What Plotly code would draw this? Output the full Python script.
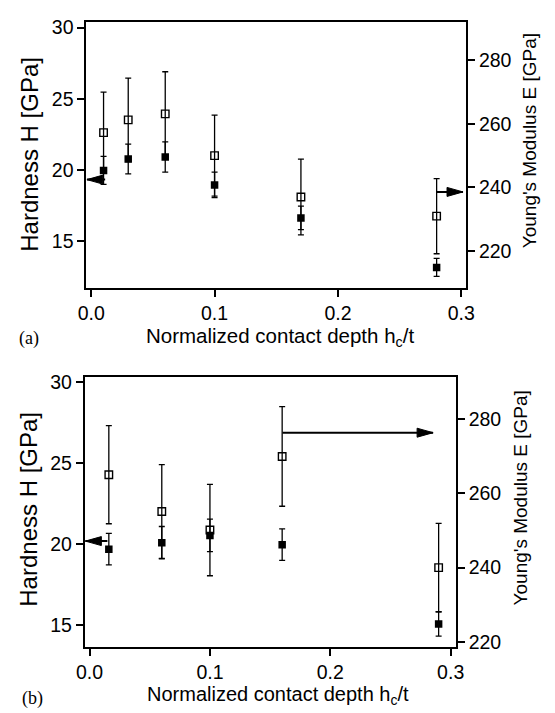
import plotly.graph_objects as go

W, H = 555, 713

# ---------------- data (panel a) ----------------
xa = [0.01, 0.03, 0.06, 0.10, 0.17, 0.28]
Ha = [19.96, 20.76, 20.90, 18.94, 16.62, 13.14]
Ha_err = [0.98, 1.04, 1.06, 0.90, 0.82, 0.63]
Ea = [257.2, 261.2, 263.1, 250.0, 237.0, 231.0]
Ea_err = [12.7, 13.1, 13.2, 12.7, 11.9, 11.8]

# ---------------- data (panel b) ----------------
xb = [0.016, 0.06, 0.10, 0.16, 0.29]
Hb = [19.70, 20.10, 20.55, 19.98, 15.09]
Hb_err = [0.97, 1.00, 1.00, 0.97, 0.75]
Eb = [265.0, 255.1, 250.1, 269.9, 240.0]
Eb_err = [13.2, 12.6, 12.3, 13.4, 11.9]

# tick values / labels
x_ticks = [0.0, 0.1, 0.2, 0.3]
x_ticklabels = ["0.0", "0.1", "0.2", "0.3"]
h_ticks = [15, 20, 25, 30]
e_ticks = [220, 240, 260, 280]

x_title = "Normalized contact depth h<sub>c</sub>/t"
h_title = "Hardness H [GPa]"
e_title = "Young's Modulus E [GPa]"

# arrows: (tail x, tip x, y value) -- left arrows on H axis, right arrows on E axis
arrow_a_left = (0.0113, -0.0035, 19.31)
arrow_a_right = (0.2795, 0.3014, 238.6)
arrow_b_left = (0.0148, -0.0035, 20.2)
arrow_b_right = (0.1603, 0.2854, 276.3)

FONT = "Liberation Sans, Arial, Helvetica, sans-serif"
SERIF = "Liberation Serif, Times New Roman, serif"

fig = go.Figure()

err_style = dict(type="data", color="black", thickness=1.3, width=3)

def add_panel(x, h, herr, e, eerr, xax, yE, yH):
    fig.add_trace(go.Scatter(
        x=x, y=e, mode="markers", xaxis=xax, yaxis=yE,
        marker=dict(symbol="square-open", size=7.5, color="black", line=dict(width=1.4, color="black")),
        error_y=dict(array=eerr, **err_style), showlegend=False))
    fig.add_trace(go.Scatter(
        x=x, y=h, mode="markers", xaxis=xax, yaxis=yH,
        marker=dict(symbol="square", size=7.5, color="black"),
        error_y=dict(array=herr, **err_style), showlegend=False))

add_panel(xa, Ha, Ha_err, Ea, Ea_err, "x", "y", "y2")
add_panel(xb, Hb, Hb_err, Eb, Eb_err, "x2", "y3", "y4")

def px_domain_x(l, r):
    return [l / W, r / W]

def px_domain_y(t, b):
    return [1 - b / H, 1 - t / H]

axis_common = dict(showgrid=False, zeroline=False, showline=True, linecolor="black", linewidth=2,
                   ticks="outside", ticklen=7, tickwidth=2, tickcolor="black",
                   tickfont=dict(family=FONT, size=19.5, color="black"))

fig.update_layout(
    width=W, height=H, autosize=False,
    margin=dict(l=0, r=0, t=0, b=0),
    paper_bgcolor="white", plot_bgcolor="white",
    showlegend=False,
    xaxis=dict(domain=px_domain_x(80, 472.3), range=[-0.0039, 0.3038], anchor="y",
               tickvals=x_ticks, ticktext=x_ticklabels, mirror=True, **axis_common),
    yaxis=dict(domain=px_domain_y(16, 286.7), range=[208.5, 292.0], side="right", anchor="x",
               tickvals=e_ticks, **axis_common),
    yaxis2=dict(range=[11.70, 30.41], side="left", overlaying="y", anchor="x",
                tickvals=h_ticks, **axis_common),
    xaxis2=dict(domain=px_domain_x(78.3, 461.7), range=[-0.004, 0.3042], anchor="y3",
                tickvals=x_ticks, ticktext=x_ticklabels, mirror=True, **axis_common),
    yaxis3=dict(domain=px_domain_y(377.3, 651.7), range=[218.7, 291.3], side="right", anchor="x2",
                tickvals=e_ticks, **axis_common),
    yaxis4=dict(range=[13.68, 30.33], side="left", overlaying="y3", anchor="x2",
                tickvals=h_ticks, **axis_common),
)

# arrows: line + slender filled head (head in pixel units, anchored at the tip)
shapes = []
def add_arrow(spec, xref, yref, direction):
    tail, tip, yv = spec
    shapes.append(dict(type="line", xref=xref, yref=yref, x0=tail, x1=tip, y0=yv, y1=yv,
                       line=dict(color="black", width=2)))
    if direction == "left":
        path = "M0,0 L16,-4.5 L16,4.5 Z"
    else:
        path = "M0,0 L-16,-4.5 L-16,4.5 Z"
    shapes.append(dict(type="path", xref=xref, yref=yref, xsizemode="pixel", ysizemode="pixel",
                       xanchor=tip, yanchor=yv, path=path,
                       fillcolor="black", line=dict(color="black", width=1)))

add_arrow(arrow_a_left, "x", "y2", "left")
add_arrow(arrow_a_right, "x", "y", "right")
add_arrow(arrow_b_left, "x2", "y4", "left")
add_arrow(arrow_b_right, "x2", "y3", "right")
fig.update_layout(shapes=shapes)

ann = []
def text(x_px, y_px, s, size, angle=0, family=FONT):
    ann.append(dict(xref="paper", yref="paper", x=x_px / W, y=1 - y_px / H, text=s,
                    showarrow=False, textangle=angle, xanchor="center", yanchor="middle",
                    font=dict(family=family, size=size, color="black")))

text(21, 151, h_title, 24, -90)
text(538, 137, e_title, 19, -90)
text(280, 337, x_title, 20.5)
text(21, 338, "(a)", 18, family=SERIF)

text(20, 512, h_title, 24, -90)
text(529, 500, e_title, 19, -90)
text(278, 701.5, x_title, 20)
text(24, 704, "(b)", 18, family=SERIF)

fig.update_layout(annotations=ann)

fig.write_html(
    "out.html",
    config={"displayModeBar": False},
    post_script="document.body.style.margin='0';document.body.style.padding='0';"
                "document.documentElement.style.overflow='hidden';document.body.style.overflow='hidden';",
)
